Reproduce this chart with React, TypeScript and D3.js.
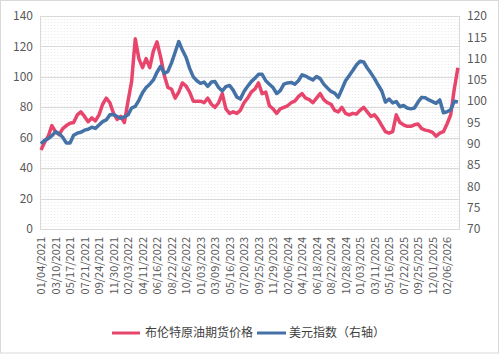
import React from "react";
import * as d3 from "d3";

// Date labels on the category axis (one every 4 samples)
const dateLabels = [
  "01/04/2021", "03/10/2021", "05/17/2021", "07/21/2021", "09/24/2021", "11/30/2021",
  "02/03/2022", "04/11/2022", "06/16/2022", "08/22/2022", "10/26/2022", "01/03/2023",
  "03/09/2023", "05/16/2023", "07/20/2023", "09/25/2023", "11/29/2023", "02/06/2024",
  "04/12/2024", "06/18/2024", "08/22/2024", "10/28/2024", "01/03/2025", "03/11/2025",
  "05/16/2025", "07/22/2025", "09/25/2025", "12/01/2025", "02/06/2026",
];

// Brent crude futures price (left axis), sampled roughly twice a month
const brent = [
  52, 57, 61, 68, 64, 62, 66, 68, 69.5, 70, 75, 77, 74, 70.5, 73, 71, 75, 82, 86, 83,
  76, 72, 74, 70, 84, 97, 125, 112, 106, 112, 106, 117, 123, 113, 101, 93, 92, 86, 90, 96,
  94, 90, 84, 84, 84, 83, 86, 82, 80, 83, 89, 79, 76, 77, 76, 78, 83, 86, 90, 92,
  96, 89, 90, 81, 79, 76, 79, 80, 81, 83, 84, 87, 89, 86, 85, 83, 86, 89, 85, 83,
  82, 78, 77, 80, 76, 75, 76, 75.5, 78, 80, 77, 74, 75, 72, 68, 64, 63, 64, 75, 70,
  68.5, 67.5, 67.5, 68.5, 69, 66, 65, 64.5, 63.5, 61, 63, 64, 69, 75, 92, 106,
];

// US dollar index (right axis)
const dxy = [
  90, 90.8, 91.2, 91.9, 92.8, 92.4, 91.5, 90.2, 90.2, 92, 92.5, 92.7, 93.2, 93.4, 93.9, 93.6, 94.4, 95.2, 95.6, 96.8,
  96.9, 96.4, 96, 96.3, 96.8, 98.4, 98.8, 100.2, 102, 103.2, 104, 105, 106.8, 108.2, 106.5, 107, 109, 111.5, 114, 112,
  110.3, 107.7, 105.7, 104.8, 104.2, 104.5, 103.5, 104.5, 104.6, 103.2, 102.4, 103.4, 103.7, 102.6, 101, 100.5, 102.3, 103.5, 104.6, 105.4,
  106.3, 106.3, 104.8, 104, 103.2, 101.8, 102.5, 104, 104.3, 104.4, 104, 104.8, 106.2, 105.9, 105.4, 105, 105.8, 105.3, 104, 103.1,
  102.3, 101.9, 100.9, 102.8, 104.8, 106, 107.2, 108.5, 109.4, 109.2, 107.8, 106.6, 105.3, 103.8, 102.4, 99.8, 100.5, 99.6, 99.9, 98.7,
  99, 98.4, 98.2, 98.4, 99.8, 100.9, 100.8, 100.3, 99.9, 99.5, 100.3, 97.3, 97.5, 98, 100, 99.8,
];

const leftTicks = [0, 20, 40, 60, 80, 100, 120, 140];
const rightTicks = [70, 75, 80, 85, 90, 95, 100, 105, 110, 115, 120];
const seriesNames = ["布伦特原油期货价格", "美元指数（右轴）"];

const W = 500;
const H = 363;
const PL = 40;
const PR = 459;
const PT = 16;
const PB = 229;
const SAMPLES_PER_LABEL = 4;
const PINK = "#E8456C";
const BLUE = "#4471A6";
const FONT = "'Noto Sans CJK SC', 'Noto Sans', sans-serif";

export default function App() {
  const x = d3.scaleLinear().domain([0, 115.3]).range([41, PR]);
  const yL = d3.scaleLinear().domain([0, 140]).range([PB, PT]);
  const yR = d3.scaleLinear().domain([70, 120]).range([PB, PT]);

  const lineL = d3
    .line<number>()
    .x((_, i) => x(i))
    .y((d) => yL(d));
  const lineR = d3
    .line<number>()
    .x((_, i) => x(i))
    .y((d) => yR(d));

  const vGrid = d3.range(PL + 2, PR, 3.2);

  return (
    <svg
      width={W}
      height={H}
      style={{ position: "absolute", left: 0, top: 0, background: "#fff" }}
      fontFamily={FONT}
    >
      <rect x={0.5} y={0.5} width={W - 2} height={352.5} fill="#fff" stroke="#d9d9d9" />
      {/* faint dotted vertical background */}
      <g stroke="#e8e8e8" strokeWidth={1} strokeDasharray="1,2">
        {vGrid.map((gx, i) => (
          <line key={i} x1={gx} x2={gx} y1={PT} y2={PB} />
        ))}
      </g>
      {/* horizontal grid */}
      <g stroke="#d9d9d9" strokeWidth={1}>
        {leftTicks.map((t) => (
          <line key={t} x1={PL} x2={PR} y1={Math.round(yL(t)) + 0.5} y2={Math.round(yL(t)) + 0.5} />
        ))}
      </g>
      <rect x={PL + 0.5} y={PT + 0.5} width={PR - PL} height={PB - PT} fill="none" stroke="#d9d9d9" />
      {/* left axis */}
      <g fontSize={12} fill="#595959" textAnchor="end">
        {leftTicks.map((t) => (
          <text key={t} x={33} y={yL(t)} dy="0.35em">
            {t}
          </text>
        ))}
      </g>
      {/* right axis */}
      <g fontSize={12} fill="#595959" textAnchor="start">
        {rightTicks.map((t) => (
          <text key={t} x={467} y={yR(t)} dy="0.35em">
            {t}
          </text>
        ))}
      </g>
      {/* x labels */}
      <g fontSize={11} fill="#595959" textAnchor="end">
        {dateLabels.map((d, i) => {
          const lx = x(i * SAMPLES_PER_LABEL);
          return (
            <text key={d} transform={`translate(${lx + 4},237) rotate(-90)`}>
              {d}
            </text>
          );
        })}
      </g>
      {/* series */}
      <path d={lineL(brent) || ""} fill="none" stroke={PINK} strokeWidth={3.5} strokeLinejoin="round" />
      <path d={lineR(dxy) || ""} fill="none" stroke={BLUE} strokeWidth={3.5} strokeLinejoin="round" />
      {/* legend */}
      <g fontSize={12} fill="#404040">
        <line x1={112} x2={140} y1={333} y2={333} stroke={PINK} strokeWidth={3} />
        <text x={145} y={333} dy="0.35em">
          {seriesNames[0]}
        </text>
        <line x1={257} x2={286} y1={333} y2={333} stroke={BLUE} strokeWidth={3} />
        <text x={289} y={333} dy="0.35em">
          {seriesNames[1]}
        </text>
      </g>
    </svg>
  );
}
